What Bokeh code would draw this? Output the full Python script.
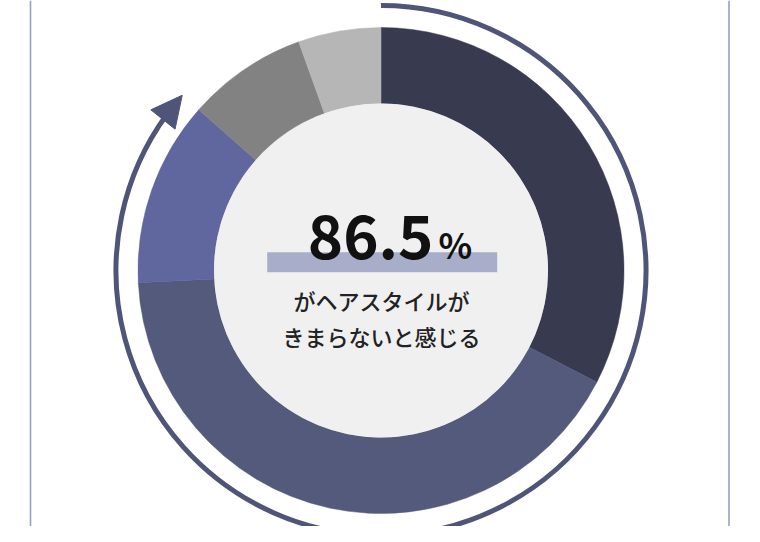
import math
from bokeh.plotting import figure
from bokeh.models import Range1d, Span, Arrow, NormalHead, ColumnDataSource
from bokeh.core.properties import value
from bokeh.embed import file_html
from bokeh.resources import INLINE

# ---- data ----
segments = ["A", "B", "C", "D", "E"]
shares = [32.6, 41.6, 12.3, 8.0, 5.5]
colors = ["#383a50", "#535a7c", "#5f679e", "#828282", "#b6b6b6"]
headline_value = "86.5"
headline_unit = "%"
highlight_share = 86.5
caption_lines = ["がヘアスタイルが", "きまらないと感じる"]

# ---- layout ----
W, H = 744, 526
cx, cy = 380.5, 272.0
r_outer, r_inner = 243.0, 167.0
r_arc = 265.0
arc_color = "#4f5578"
jp_font = "Noto Sans CJK JP"
jp_font_med = "Noto Sans CJK JP Medium, Noto Sans CJK JP"

p = figure(width=W, height=H, x_range=Range1d(0, 744), y_range=Range1d(16, 542),
           output_backend="svg", toolbar_location=None, min_border=0,
           x_axis_location=None, y_axis_location=None, outline_line_color=None,
           background_fill_color="white", border_fill_color="white")
p.grid.visible = False

# vertical frame lines
for loc in (30.0, 728.5):
    p.add_layout(Span(location=loc, dimension="height", line_color="#97a0c6", line_width=1.6))

# donut wedges (clockwise from 12 o'clock)
total = sum(shares)
starts, ends = [], []
cum = 0.0
for s in shares:
    a0 = cum / total * 2 * math.pi
    cum += s
    a1 = cum / total * 2 * math.pi
    starts.append(math.pi / 2 - a0)
    ends.append(math.pi / 2 - a1)
src = ColumnDataSource(dict(seg=segments, start=starts, end=ends, color=colors))
p.annular_wedge(x=cx, y=cy, inner_radius=r_inner, outer_radius=r_outer,
                start_angle="start", end_angle="end", direction="clock",
                fill_color="color", line_color="color", line_width=0.5, source=src)

# inner disk
p.circle(x=cx, y=cy, radius=r_inner, fill_color="#f0f0f0", line_color=None)

# progress arc with arrow head
tip_a = highlight_share / 100 * 2 * math.pi
head_len = 27.0
base_a = tip_a - head_len / r_arc
p.arc(x=cx, y=cy, radius=r_arc, start_angle=math.pi / 2, end_angle=math.pi / 2 - base_a - 0.01,
      direction="clock", line_color=arc_color, line_width=5)
tx, ty = cx + r_arc * math.sin(tip_a), cy + r_arc * math.cos(tip_a)
bx, by = cx + r_arc * math.sin(base_a), cy + r_arc * math.cos(base_a)
p.add_layout(Arrow(x_start=bx, y_start=by, x_end=tx, y_end=ty, line_color=arc_color, line_width=5,
                   end=NormalHead(size=31, fill_color=arc_color, line_color=arc_color, line_width=1)))

# highlight bar under the number
p.rect(x=381.7, y=280.3, width=230, height=20, fill_color="#a8adca", line_color=None)

# headline number
p.text(x=[433], y=[306], text=[headline_value], text_align="right", text_baseline="middle",
       text_font=value(jp_font), text_font_style="bold", text_font_size="60px", text_color="#111111")
p.text(x=[438], y=[299], text=[headline_unit], text_align="left", text_baseline="middle",
       text_font=value(jp_font), text_font_style="bold", text_font_size="35px", text_color="#111111")

# caption
p.text(x=[381, 381], y=[243, 207], text=caption_lines, text_align="center", text_baseline="middle",
       text_font=value(jp_font_med), text_font_style="normal", text_font_size="22px", text_color="#222222")

open("out.html", "w").write(file_html(p, INLINE))
